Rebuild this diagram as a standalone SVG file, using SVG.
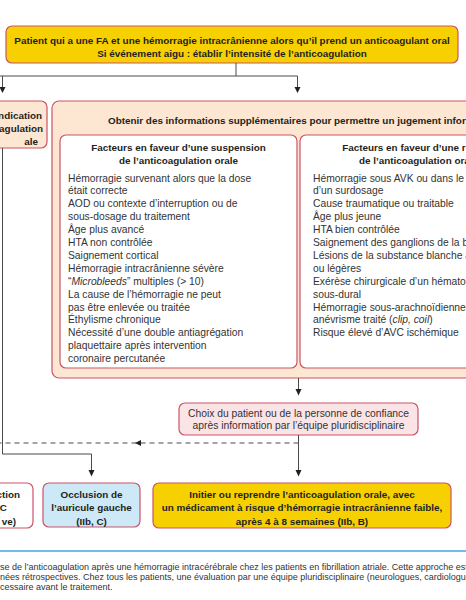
<svg xmlns="http://www.w3.org/2000/svg" width="466" height="600" viewBox="0 0 466 600">
<defs>
<style>
text{font-family:"Liberation Sans",Arial,sans-serif;fill:#231f20}
.b{font-weight:bold;font-size:9.9px}
.r{font-size:10.3px;fill:#333}
.c{text-anchor:middle}
.e{text-anchor:end}
.box{stroke:#cc5468;stroke-width:1.2}
.ln{fill:none;stroke:#4a4a4a;stroke-width:1}
.ah{fill:#231f20}
.ft{font-size:9px;fill:#333}
</style>
</defs>
<rect width="466" height="600" fill="#fff"/>

<g id="top">
<rect class="box" x="6" y="26" width="452" height="37" rx="6" fill="#f6d000"/>
<text class="b c" x="232" y="43.5">Patient qui a une FA et une hémorragie intracrânienne alors qu’il prend un anticoagulant oral</text>
<text class="b c" x="232" y="56.5">Si événement aigu : établir l’intensité de l’anticoagulation</text>
</g>

<g id="contre">
<rect class="box" x="-20" y="101" width="67" height="47" rx="6" fill="#fde6d2"/>
<text class="b e" x="42" y="118.5">ndication</text>
<text class="b e" x="43" y="131.5">agulation</text>
<text class="b e" x="38" y="144.5">ale</text>
</g>

<g id="infos">
<rect class="box" x="52" y="101" width="560" height="277" rx="7" fill="#fde6d2"/>
<text class="b" x="108" y="123.5">Obtenir des informations supplémentaires pour permettre un jugement informé</text>
</g>

<g id="suspension">
<rect class="box" x="60" y="135" width="237" height="233" rx="6" fill="#fff"/>
<text class="b c" x="178.5" y="150.5">Facteurs en faveur d’une suspension</text>
<text class="b c" x="178.5" y="163.5">de l’anticoagulation orale</text>
<text class="r" x="68" y="181.5">Hémorragie survenant alors que la dose</text>
<text class="r" x="68" y="194.4">était correcte</text>
<text class="r" x="68" y="207.3">AOD ou contexte d’interruption ou de</text>
<text class="r" x="68" y="220.2">sous-dosage du traitement</text>
<text class="r" x="68" y="233.1">Âge plus avancé</text>
<text class="r" x="68" y="246">HTA non contrôlée</text>
<text class="r" x="68" y="258.9">Saignement cortical</text>
<text class="r" x="68" y="271.8">Hémorragie intracrânienne sévère</text>
<text class="r" x="68" y="284.7">“<tspan font-style="italic">Microbleeds</tspan>” multiples (&gt; 10)</text>
<text class="r" x="68" y="297.6">La cause de l’hémorragie ne peut</text>
<text class="r" x="68" y="310.5">pas être enlevée ou traitée</text>
<text class="r" x="68" y="323.4">Éthylisme chronique</text>
<text class="r" x="68" y="336.3">Nécessité d’une double antiagrégation</text>
<text class="r" x="68" y="349.2">plaquettaire après intervention</text>
<text class="r" x="68" y="362.1">coronaire percutanée</text>
</g>

<g id="reprise">
<rect class="box" x="300" y="135" width="237" height="233" rx="6" fill="#fff"/>
<text class="b c" x="418.5" y="150.5">Facteurs en faveur d’une reprise</text>
<text class="b c" x="418.5" y="163.5">de l’anticoagulation orale</text>
<text class="r" x="313" y="181.5">Hémorragie sous AVK ou dans le contexte</text>
<text class="r" x="313" y="194.4">d’un surdosage</text>
<text class="r" x="313" y="207.3">Cause traumatique ou traitable</text>
<text class="r" x="313" y="220.2">Âge plus jeune</text>
<text class="r" x="313" y="233.1">HTA bien contrôlée</text>
<text class="r" x="313" y="246">Saignement des ganglions de la base</text>
<text class="r" x="313" y="258.9">Lésions de la substance blanche absentes</text>
<text class="r" x="313" y="271.8">ou légères</text>
<text class="r" x="313" y="284.7">Exérèse chirurgicale d’un hématome</text>
<text class="r" x="313" y="297.6">sous-dural</text>
<text class="r" x="313" y="310.5">Hémorragie sous-arachnoïdienne avec</text>
<text class="r" x="313" y="323.4">anévrisme traité (<tspan font-style="italic">clip, coil</tspan>)</text>
<text class="r" x="313" y="336.3">Risque élevé d’AVC ischémique</text>
</g>

<g id="choix">
<rect class="box" x="179" y="403" width="239" height="32" rx="6" fill="#fbe4e5"/>
<text class="r c" x="298.5" y="416.5">Choix du patient ou de la personne de confiance</text>
<text class="r c" x="298.5" y="428.8">après information par l’équipe pluridisciplinaire</text>
</g>

<g id="abstention">
<rect class="box" x="-20" y="483" width="53" height="45" rx="6" fill="#fff"/>
<text class="b e" x="20" y="497.5">ction</text>
<text class="b e" x="7" y="511">C</text>
<text class="b e" x="16" y="524.5">ve)</text>
</g>

<g id="occlusion">
<rect class="box" x="43" y="483" width="97" height="44" rx="6" fill="#cde9f7"/>
<text class="b c" x="91.5" y="497.5">Occlusion de</text>
<text class="b c" x="91.5" y="511">l’auricule gauche</text>
<text class="b c" x="91.5" y="524.5">(IIb, C)</text>
</g>

<g id="reprendre">
<rect class="box" x="153" y="483" width="298" height="45" rx="6" fill="#f6d000"/>
<text class="b c" x="302" y="497.5">Initier ou reprendre l’anticoagulation orale, avec</text>
<text class="b c" x="302" y="511">un médicament à risque d’hémorragie intracrânienne faible,</text>
<text class="b c" x="302" y="524.5">après 4 à 8 semaines (IIb, B)</text>
</g>

<g id="connectors">
<path class="ln" d="M236 63V76M-5 76H297.5V88M2.5 76V88"/>
<polygon class="ah" points="-0.5,87 5.5,87 2.5,93"/>
<polygon class="ah" points="294.5,87 300.5,87 297.5,93"/>
<path class="ln" d="M298.5 378V390"/>
<polygon class="ah" points="295.5,389 301.5,389 298.5,395.5"/>
<path class="ln" d="M298.5 435V471"/>
<polygon class="ah" points="295.5,470 301.5,470 298.5,476.5"/>
<path class="ln" d="M298.5 443H-5" stroke-dasharray="5,4"/>
<polygon class="ah" points="135,443 141,440 141,446"/>
<path class="ln" d="M2.5 148V454H91.5V471"/>
<polygon class="ah" points="88.5,470 94.5,470 91.5,476.5"/>
</g>

<g id="footer">
<line x1="0" y1="551" x2="466" y2="551" stroke="#3fa9e0" stroke-width="1.5"/>
<text class="ft" x="0" y="570">se de l’anticoagulation après une hémorragie intracérébrale chez les patients en fibrillation atriale. Cette approche est</text>
<text class="ft" x="0" y="580">nées rétrospectives. Chez tous les patients, une évaluation par une équipe pluridisciplinaire (neurologues, cardiologues</text>
<text class="ft" x="0" y="590">cessaire avant le traitement.</text>
</g>
</svg>
